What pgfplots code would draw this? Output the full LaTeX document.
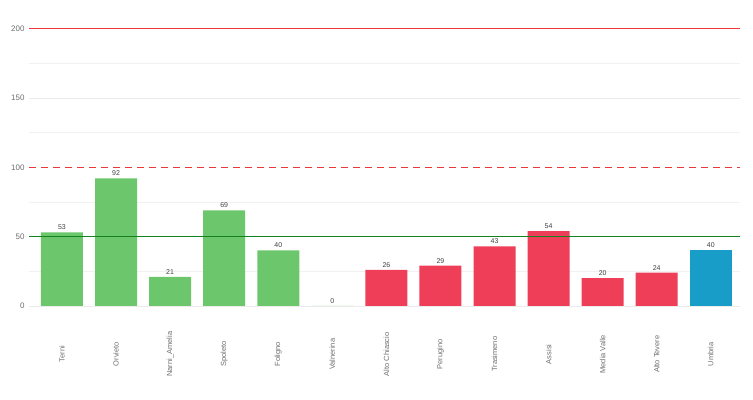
\documentclass[border=0pt]{standalone}
\usepackage{pgfplots}
\pgfplotsset{compat=1.18}
\usepackage{fontspec}
\setmainfont{Liberation Sans}
\definecolor{gbar}{RGB}{108,198,108}
\definecolor{rbar}{RGB}{238,62,88}
\definecolor{bbar}{RGB}{24,156,200}
\definecolor{gridc}{RGB}{235,235,235}
\definecolor{tickc}{RGB}{110,110,110}
\definecolor{redl}{RGB}{235,55,55}
\definecolor{greenl}{RGB}{20,130,30}
\begin{document}
\begin{tikzpicture}
\path[use as bounding box] (0,0) rectangle (753bp,400bp);
\begin{axis}[
  at={(29bp,90bp)}, anchor=south west,
  scale only axis, width=711bp, height=302bp,
  xmin=-0.61, xmax=12.54, ymin=-3, ymax=215,
  axis line style={draw=none},
  tick style={draw=none},
  ytick={0,50,150,200},
  extra y ticks={100},
  extra y tick style={grid=none},
  minor ytick={25,75,125,175},
  ymajorgrids, yminorgrids,
  major grid style={gridc, line width=0.6pt},
  minor grid style={gridc!70, line width=0.5pt},
  xtick={0,...,12},
  xticklabels={Terni,Orvieto,Narni\_Amelia,Spoleto,Foligno,Valnerina,Alto Chiascio,Perugino,Trasimeno,Assisi,Media Valle,Alto Tevere,Umbria},
  xticklabel style={rotate=90, anchor=center, font=\fontsize{7.5}{9}\selectfont, text=tickc},
  xticklabel shift=40bp,
  yticklabel style={font=\fontsize{8}{9}\selectfont, text=tickc, xshift=-1bp},
  /pgf/number format/assume math mode=true,
  ybar, bar width=42bp,
  every node near coord/.append style={font=\fontsize{7}{8}\selectfont, text=black!75, yshift=-1bp},
  clip=false,
]
\addplot[fill=gbar, draw=none, bar shift=0, nodes near coords] coordinates {(0,53) (1,92) (2,21) (3,69) (4,40) (5,0)};
\addplot[fill=rbar, draw=none, bar shift=0, nodes near coords] coordinates {(6,26) (7,29) (8,43) (9,54) (10,20) (11,24)};
\addplot[fill=bbar, draw=none, bar shift=0, nodes near coords] coordinates {(12,40)};
\addplot[sharp plot, draw=redl, line width=1.4pt, forget plot] coordinates {(-0.61,200) (12.54,200)};
\addplot[sharp plot, draw=redl, line width=1.6pt, dash pattern=on 7bp off 5bp, forget plot] coordinates {(-0.61,100) (12.54,100)};
\addplot[sharp plot, draw=greenl, line width=1.3pt, forget plot] coordinates {(-0.61,50) (12.54,50)};
\end{axis}
\end{tikzpicture}
\end{document}
